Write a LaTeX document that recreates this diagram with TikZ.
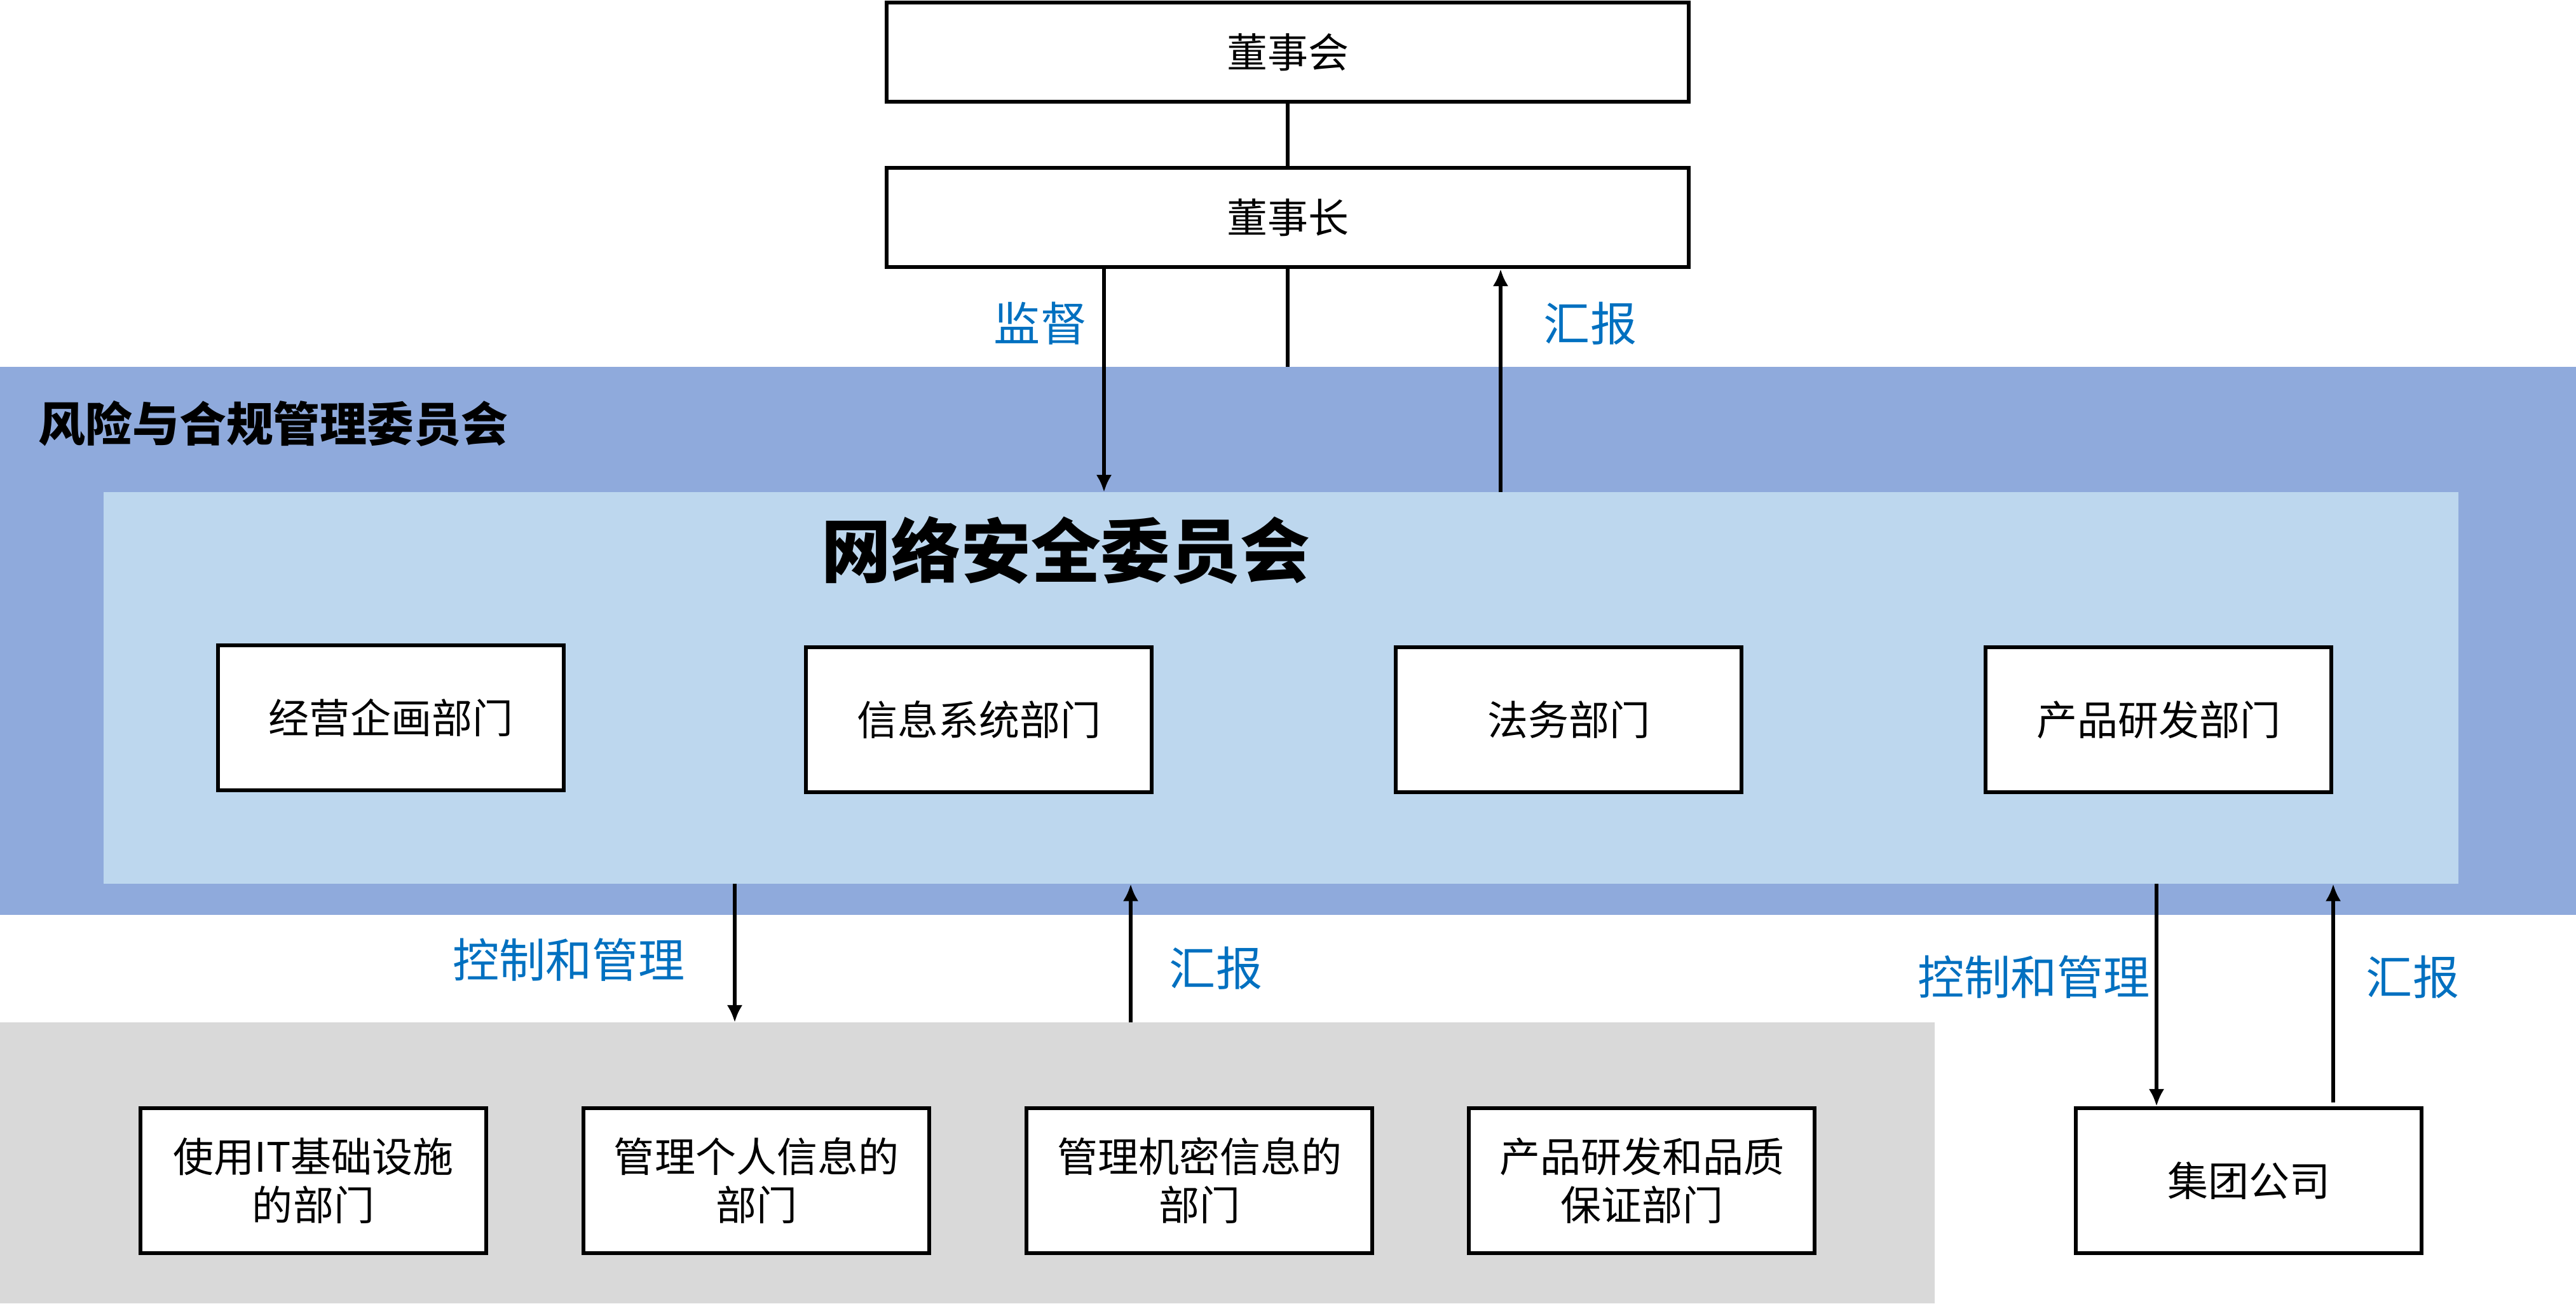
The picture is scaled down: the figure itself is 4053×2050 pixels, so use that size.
\documentclass[tikz,border=0pt]{standalone}
\usepackage{fontspec}
\setmainfont{Noto Sans CJK SC}
\usetikzlibrary{arrows.meta,calc}
\definecolor{outerblue}{HTML}{8FAADC}
\definecolor{lightblue}{HTML}{BDD7EE}
\definecolor{graybg}{HTML}{D9D9D9}
\definecolor{lblue}{HTML}{0070C0}
\begin{document}
\begin{tikzpicture}[x=0.01cm,y=-0.01cm,
  box/.style={draw=black, line width=1.7pt, fill=white, minimum width=5.43cm, minimum height=2.28cm, inner sep=0pt, align=center, font=\fontsize{18.2pt}{21.6pt}\selectfont},
  topbox/.style={box, minimum width=12.61cm, minimum height=1.56cm},
  area/.style={inner sep=0pt, outer sep=0pt, anchor=north west, draw=none},
  lbl/.style={text=lblue, font=\fontsize{20.8pt}{24pt}\selectfont, inner sep=0pt},
  arr/.style={line width=1.5pt, -{Latex[length=7.7pt,width=7pt]}},
  conn/.style={line width=1.5pt}]
\useasboundingbox (0,0) rectangle (4053,2050);
\fill[white] (0,0) rectangle (4053,2050);
% areas
\node[area, fill=outerblue, minimum width=40.53cm, minimum height=8.61cm] (rc) at (0,577) {};
\node[area, fill=lightblue, minimum width=37.03cm, minimum height=6.16cm] (nsc) at (163,774) {};
\node[area, fill=graybg, minimum width=30.42cm, minimum height=4.42cm] (gray) at (0,1608) {};
% titles
\node[anchor=west, inner sep=0pt, font=\fontsize{21pt}{25pt}\selectfont\bfseries] (rctitle) at (60,666) {风险与合规管理委员会};
\node[inner sep=0pt, font=\fontsize{31.2pt}{36pt}\selectfont\bfseries] (nsctitle) at (1677,866) {网络安全委员会};
% top boxes
\node[topbox] (dsh) at (2026,82) {董事会};
\node[topbox] (dsz) at (2026,342) {董事长};
% department boxes
\node[box] (d1) at (615,1129) {经营企画部门};
\node[box] (d2) at (1540,1132) {信息系统部门};
\node[box] (d3) at (2468,1132) {法务部门};
\node[box] (d4) at (3396,1132) {产品研发部门};
% bottom boxes
\node[box] (b1) at (493,1857) {使用IT基础设施\\的部门};
\node[box] (b2) at (1190,1857) {管理个人信息的\\部门};
\node[box] (b3) at (1887,1857) {管理机密信息的\\部门};
\node[box] (b4) at (2583,1857) {产品研发和品质\\保证部门};
\node[box] (jt) at (3538,1857) {集团公司};
% x positions for arrows
\coordinate (xa) at (1737,0);
\coordinate (xb) at (2361,0);
\coordinate (xc) at (1156,0);
\coordinate (xd) at (1779,0);
\coordinate (xe) at (3393,0);
\coordinate (xf) at (3671,0);
% connectors
\draw[conn] (dsh.south) -- (dsz.north);
\draw[conn] (dsz.south) -- (dsz.south |- rc.north);
\draw[arr] (dsz.south -| xa) -- (nsc.north -| xa);
\draw[arr] (nsc.north -| xb) -- (dsz.south -| xb);
\draw[arr] (nsc.south -| xc) -- (gray.north -| xc);
\draw[arr] (gray.north -| xd) -- (nsc.south -| xd);
\draw[arr] (nsc.south -| xe) -- (jt.north -| xe);
\draw[arr] ($(jt.north -| xf)+(0,-6)$) -- (nsc.south -| xf);
% labels
\node[lbl] (l1) at (1637,509) {监督};
\node[lbl] (l2) at (2502,509) {汇报};
\node[lbl] (l3) at (895,1510) {控制和管理};
\node[lbl] (l4) at (1913,1523) {汇报};
\node[lbl] (l5) at (3200,1537) {控制和管理};
\node[lbl] (l6) at (3796,1537) {汇报};
\end{tikzpicture}
\end{document}
